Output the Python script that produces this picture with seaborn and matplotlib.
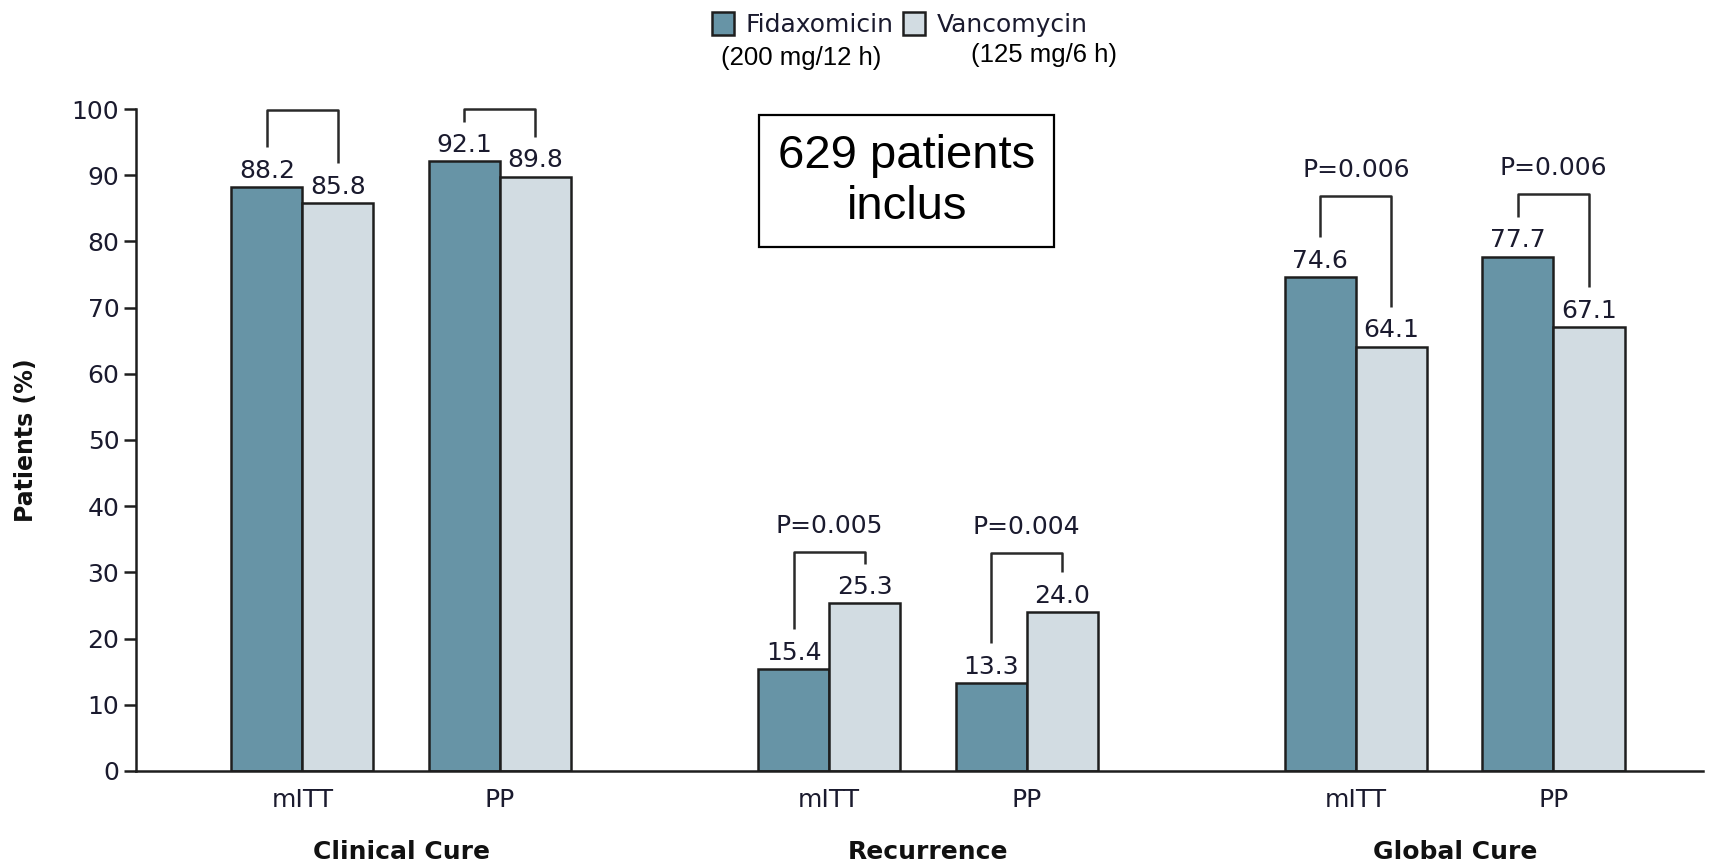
import matplotlib
matplotlib.use("Agg")
import matplotlib.pyplot as plt
import matplotlib.transforms as mtransforms
import numpy as np
import pandas as pd
import seaborn as sns

# Outcome groups and analysis populations
groups = ["Clinical Cure", "Recurrence", "Global Cure"]
analyses = ["mITT", "PP", "mITT", "PP", "mITT", "PP"]
drugs = ["Fidaxomicin", "Vancomycin"]
doses = ["(200 mg/12 h)", "(125 mg/6 h)"]

# Percent of patients per analysis
fidaxomicin = [88.2, 92.1, 15.4, 13.3, 74.6, 77.7]
vancomycin = [85.8, 89.8, 25.3, 24.0, 64.1, 67.1]
p_values = [None, None, "P=0.005", "P=0.004", "P=0.006", "P=0.006"]

# Bracket heights above each pair
bracket_top = [99.8, 100.0, 33.1, 32.9, 86.9, 87.2]

# Pairs sit at numeric x positions with a wider gap between outcome groups
positions = [0, 1, 8 / 3, 11 / 3, 16 / 3, 19 / 3]
group_centers = [0.5, 19 / 6, 35 / 6]

df = pd.DataFrame({
    "x": positions * 2,
    "value": fidaxomicin + vancomycin,
    "drug": [drugs[0]] * 6 + [drugs[1]] * 6,
})

sns.set_theme(style="white")
plt.rcParams["font.family"] = ["DejaVu Sans"]

TXT = "#1a1a2e"
LINE = "#1e1e1e"
FS = 18

fig = plt.figure(figsize=(17.11, 8.68), dpi=100)
ax = fig.add_axes([0.0795, 0.1118, 0.9158, 0.7626])

colors = {"Fidaxomicin": "#6794A6", "Vancomycin": "#D2DCE2"}
sns.barplot(data=df, x="x", y="value", hue="drug", hue_order=drugs,
            palette=colors, saturation=1, native_scale=True, width=0.72,
            edgecolor=LINE, linewidth=1.8, ax=ax, errorbar=None)

ax.set_xlim(-0.842, 7.09)
ax.set_ylim(0, 100)
ax.set_yticks(np.arange(0, 101, 10))
ax.set_xticks(positions)
ax.set_xticklabels(analyses)
ax.tick_params(axis="x", length=0, pad=12, labelsize=FS, colors=TXT)
ax.tick_params(axis="y", direction="out", length=9, width=1.8, pad=3,
               labelsize=FS, colors=LINE, labelcolor=TXT, left=True)
for side in ["top", "right"]:
    ax.spines[side].set_visible(False)
for side in ["left", "bottom"]:
    ax.spines[side].set_linewidth(1.8)
    ax.spines[side].set_color(LINE)
ax.set_xlabel("")
ax.set_ylabel("Patients (%)", fontsize=17, fontweight="bold", color="#111111")
ax.yaxis.set_label_coords(-0.0625, 0.5)

# Value labels above every bar
half = 0.18
for xp, fv, vv in zip(positions, fidaxomicin, vancomycin):
    for off, v in ((-half, fv), (half, vv)):
        ax.text(xp + off, v + 1.4, f"{v:.1f}", ha="center", va="baseline",
                fontsize=FS, color=TXT)

# Comparison brackets and P values
for xp, fv, vv, top, p in zip(positions, fidaxomicin, vancomycin,
                              bracket_top, p_values):
    ax.plot([xp - half, xp - half, xp + half, xp + half],
            [fv + 6.0, top, top, vv + 6.0], color="#2a2a2a", lw=1.8,
            clip_on=False, solid_capstyle="butt")
    if p:
        ax.text(xp, top + 3.9, p, ha="center", va="center", fontsize=FS,
                color=TXT)

# Outcome group names under the axis
trans = mtransforms.blended_transform_factory(ax.transData, ax.transAxes)
for gx, name in zip(group_centers, groups):
    ax.text(gx, -0.122, name, transform=trans, ha="center", va="center",
            fontsize=FS, fontweight="bold", color="#111111")

# Enrolment box
ax.text(0.492, 0.891, "629 patients\ninclus", transform=ax.transAxes,
        ha="center", va="center", fontsize=34, linespacing=1.2,
        family="Liberation Sans", color="black",
        bbox=dict(boxstyle="square,pad=0.4", facecolor="white",
                  edgecolor="black", linewidth=1.6))

# Legend at the top with dosing underneath
sns.move_legend(ax, loc="upper left", bbox_to_anchor=(0.406, 1.006),
                bbox_transform=fig.transFigure, ncol=2, frameon=False,
                title=None, fontsize=FS, handlelength=0.88, handleheight=1.0,
                handletextpad=0.45, columnspacing=0.4, borderpad=0.2)
leg = ax.get_legend()
for t in leg.get_texts():
    t.set_color(TXT)
for h in leg.legend_handles:
    h.set_edgecolor(LINE)
    h.set_linewidth(1.8)
fig.text(0.468, 0.933, doses[0], ha="center", va="center", fontsize=18.5,
         family="Liberation Sans", color="black")
fig.text(0.610, 0.937, doses[1], ha="center", va="center", fontsize=18.5,
         family="Liberation Sans", color="black")

fig.savefig("out.png", dpi=100)
